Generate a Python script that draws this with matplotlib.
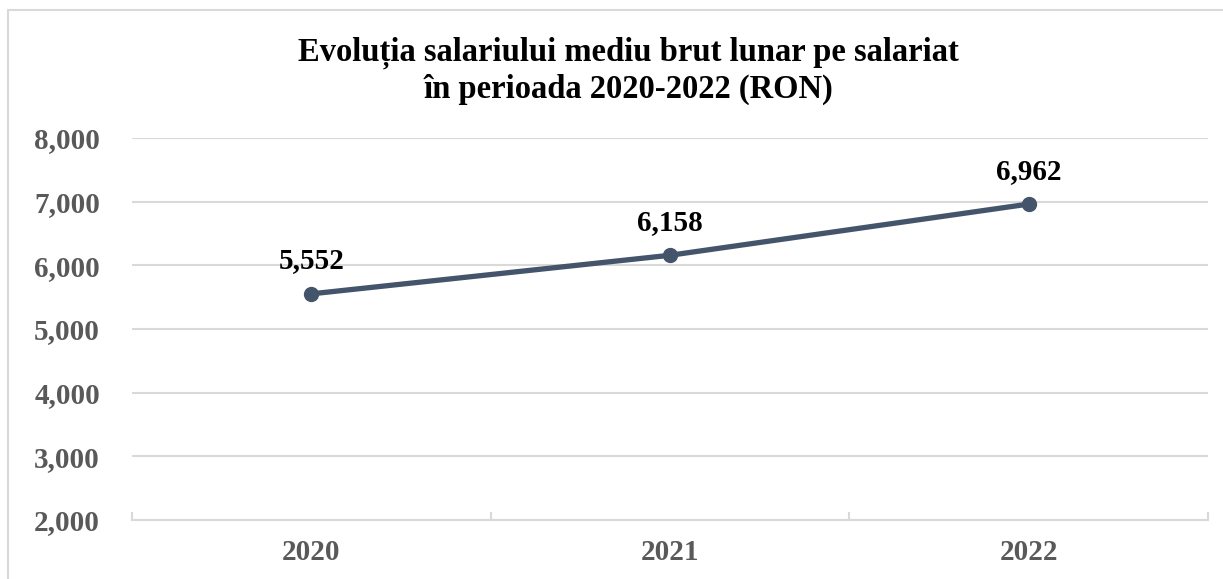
import matplotlib.pyplot as plt
import matplotlib.patches as mpatches
from matplotlib.ticker import FuncFormatter, FixedLocator

years = ["2020", "2021", "2022"]
salary = [5552, 6158, 6962]
title = "Evoluția salariului mediu brut lunar pe salariat\nîn perioada 2020-2022 (RON)"

plt.rcParams['font.family'] = ['Liberation Serif', 'DejaVu Serif']
plt.rcParams['font.weight'] = 'bold'

W, H = 1223, 579
fig = plt.figure(figsize=(W / 100, H / 100), dpi=100)
ax = fig.add_axes([132 / W, 1 - 520 / H, (1208 - 132) / W, (520 - 138) / H])

# chart-area border (runs off the right and bottom edges)
border = mpatches.Rectangle((8 / W, -0.1), 1.2, 1 - 10 / H + 0.1,
                            transform=fig.transFigure, fill=False,
                            ec="#D9D9D9", lw=1.5)
fig.add_artist(border)

x = range(len(years))
ax.plot(x, salary, color="#44546A", lw=3.8, marker="o", ms=10, zorder=3,
        solid_capstyle="round")
for xi, v in zip(x, salary):
    ax.annotate(f"{v:,}", (xi, v), xytext=(0, 14), textcoords="offset points",
                ha="center", va="bottom", fontsize=21, fontweight="bold",
                color="black")

ax.set_xlim(-0.5, 2.5)
ax.set_ylim(2000, 8000)
ax.set_yticks(range(2000, 8001, 1000))
ax.yaxis.set_major_formatter(FuncFormatter(lambda v, p: f"{int(v):,}"))
ax.set_xticks(list(x))
ax.set_xticklabels(years)
ax.xaxis.set_minor_locator(FixedLocator([-0.5, 0.5, 1.5, 2.5]))
ax.tick_params(axis="x", which="major", length=0, pad=14, labelsize=21,
               labelcolor="#595959")
ax.tick_params(axis="x", which="minor", length=6, width=1.5, direction="in",
               color="#D9D9D9")
ax.tick_params(axis="y", length=0, pad=23, labelsize=21, labelcolor="#595959")

ax.grid(axis="y", color="#D9D9D9", lw=1.5)
ax.set_axisbelow(True)
for s in ["top", "right", "left"]:
    ax.spines[s].set_visible(False)
ax.spines["bottom"].set_color("#D9D9D9")
ax.spines["bottom"].set_linewidth(1.5)

fig.text(628 / W, 1 - 71 / H, title, ha="center", va="center", fontsize=23.5,
         fontweight="bold", color="black", linespacing=1.2)

fig.savefig("out.png", dpi=100, facecolor="white")
